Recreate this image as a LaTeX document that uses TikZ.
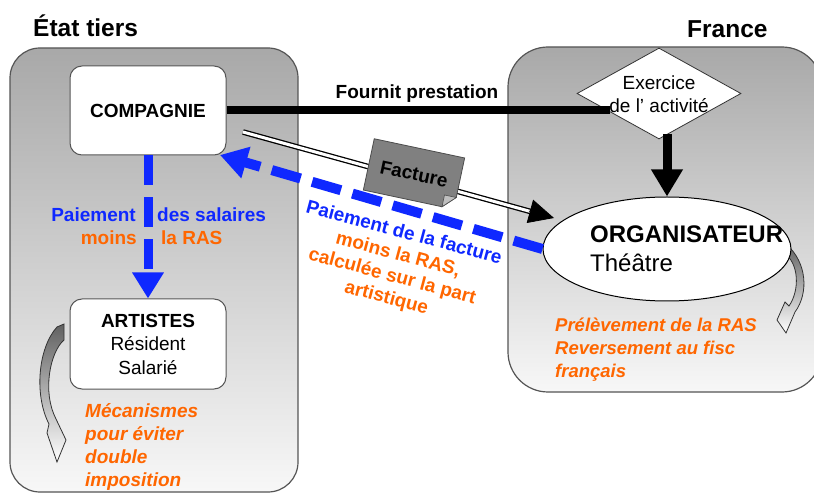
\documentclass[tikz,border=0pt]{standalone}
\usepackage{fontspec}
\setmainfont{Liberation Sans}
\usetikzlibrary{arrows.meta,shapes.geometric,calc}
\definecolor{pblue}{RGB}{15,40,255}
\definecolor{porange}{RGB}{255,102,0}
\definecolor{pborder}{RGB}{85,85,85}
\tikzset{
  panel/.style={draw=pborder,line width=1.2pt,top color=black!34,bottom color=black!3},
  whitebox/.style={draw=pborder,line width=1pt,fill=white,rounded corners=12pt,minimum width=156pt,minimum height=89pt,inner sep=0pt,align=center,font=\fontsize{19}{23.5}\selectfont},
  bluedash/.style={draw=pblue,dash pattern=on 30pt off 12pt},
  titletext/.style={font=\bfseries\fontsize{24.5}{28}\selectfont,inner sep=0pt},
  bodytext/.style={font=\fontsize{19}{23}\selectfont},
  boldtext/.style={font=\bfseries\fontsize{19}{23}\selectfont},
  orangenote/.style={text=porange,font=\bfseries\itshape\fontsize{19}{23}\selectfont,align=left,inner sep=0pt},
  bluelabel/.style={text=pblue,font=\bfseries\fontsize{19}{23}\selectfont,inner sep=0pt},
  orangelabel/.style={text=porange,font=\bfseries\fontsize{19}{23}\selectfont,inner sep=0pt},
  curvarrow/.style={draw=black!80,line width=0.8pt,top color=black!62,bottom color=white},
}
\begin{document}
\begin{tikzpicture}[x=1pt,y=-1pt]
\useasboundingbox (0,0) rectangle (814,494);
\fill[white] (0,0) rectangle (814,494);
% panels
\path[panel,rounded corners=30pt] (10,48) rectangle (298,492);
\path[panel,rounded corners=40pt] (508,47) rectangle (822,392);
% titles
\node[titletext,anchor=base west] (etat) at (33,37) {État tiers};
\node[titletext,anchor=base west] (france) at (687,38) {France};
% curved arrows
\path[curvarrow] (57,327) -- (64,324) -- (64,340) .. controls (50,352) and (42,392) .. (56,419) -- (66,440) -- (57,462) -- (47,433) -- (49,424) .. controls (34,395) and (38,348) .. (57,327) -- cycle;
\path[curvarrow] (786,244) .. controls (807,262) and (809,293) .. (795,312) -- (786,333) -- (777,320) -- (785,302) -- (789,306) .. controls (800,290) and (799,263) .. (784,253) -- cycle;
% boxes
\node[whitebox] (comp) at (148,110.5) {\bfseries COMPAGNIE};
\node[whitebox,minimum height=90pt] (art) at (148,344) {\textbf{ARTISTES}\\Résident\\Salarié};
\node[diamond,draw=black!80,line width=0.8pt,fill=white,minimum width=164pt,minimum height=91pt,inner sep=0pt] (ex) at (659,93.5) {};
\node[ellipse,draw=black,line width=1pt,fill=white,minimum width=248pt,minimum height=104pt,inner sep=0pt] (org) at (667,249) {};
% fournit prestation
\coordinate (fpend) at (610,110.5);
\draw[line width=8pt] (comp.east) -- (fpend);
\node[boldtext,anchor=base,inner sep=0pt] (fp) at (417,99) {Fournit prestation};
\draw[line width=9pt,-{Triangle[length=27pt,width=30pt]}] ($(ex.south -| org.north)+(0,-5)$) -- (org.north);
% double line (facture)
\coordinate (dblstart) at (243,132);
\coordinate (dblend) at (554,218);
\draw[line width=1.3pt,double=white,double distance=3pt] (dblstart) -- ($(dblend)!22pt!(dblstart)$);
\draw[line width=0.8pt,-{Triangle[length=25pt,width=24pt]}] ($(dblend)!26pt!(dblstart)$) -- (dblend);
% facture sheet
\node[rotate=-12,minimum width=92pt,minimum height=52pt,inner sep=0pt] (fact) at (414,174) {};
\coordinate (fa) at ($(fact.south east)!12pt!(fact.north east)$);
\coordinate (fb) at ($(fact.south east)!12pt!(fact.south west)$);
\filldraw[fill=black!50,draw=black!70,line width=0.8pt] (fact.north west) -- (fact.north east) -- (fa) -- (fb) -- (fact.south west) -- cycle;
\filldraw[fill=black!25,draw=black!70,line width=0.6pt] (fa) -- (fb) -- ($(fa)+(fb)-(fact.south east)$) -- cycle;
\node[rotate=-12,boldtext,inner sep=0pt] (facttxt) at (fact.center) {Facture};
% blue payments
\coordinate (comptip) at (220,155);
\draw[bluedash,line width=10pt,-{Triangle[length=27pt,width=31pt]}] (org.west) -- (comptip);
\draw[bluedash,line width=9pt,-{Triangle[length=26pt,width=30pt]}] (comp.south) -- (art.north);
\node[bluelabel,anchor=base east] (pay1) at (136,222) {Paiement};
\node[bluelabel,anchor=base west] (pay2) at (157,222) {des salaires};
\node[orangelabel,anchor=base east] (moins1) at (137,245) {moins};
\node[orangelabel,anchor=base west] (moins2) at (161,245) {la RAS};
\node[rotate=-15,align=center,font=\bfseries\fontsize{19}{22.5}\selectfont,inner sep=0pt] (paylab) at (395,266) {\textcolor{pblue}{Paiement de la facture}\\\textcolor{porange}{moins la RAS,}\\\textcolor{porange}{calculée sur la part}\\\textcolor{porange}{artistique}};
% texts
\node[orangenote,anchor=west] (meca) at (85,447.5) {Mécanismes\\pour éviter\\double\\imposition};
\node[orangenote,anchor=west,font=\bfseries\itshape\fontsize{18.5}{23}\selectfont] (prel) at (555,350) {Prélèvement de la RAS\\Reversement au fisc\\français};
\node[anchor=west,align=left,inner sep=0pt,font=\fontsize{24}{29}\selectfont] (orgtxt) at (590,249) {\textbf{ORGANISATEUR}\\Théâtre};
\node[bodytext,align=center,inner sep=0pt] (extxt) at (659,94.5) {Exercice\\de l’ activité};
\end{tikzpicture}
\end{document}
